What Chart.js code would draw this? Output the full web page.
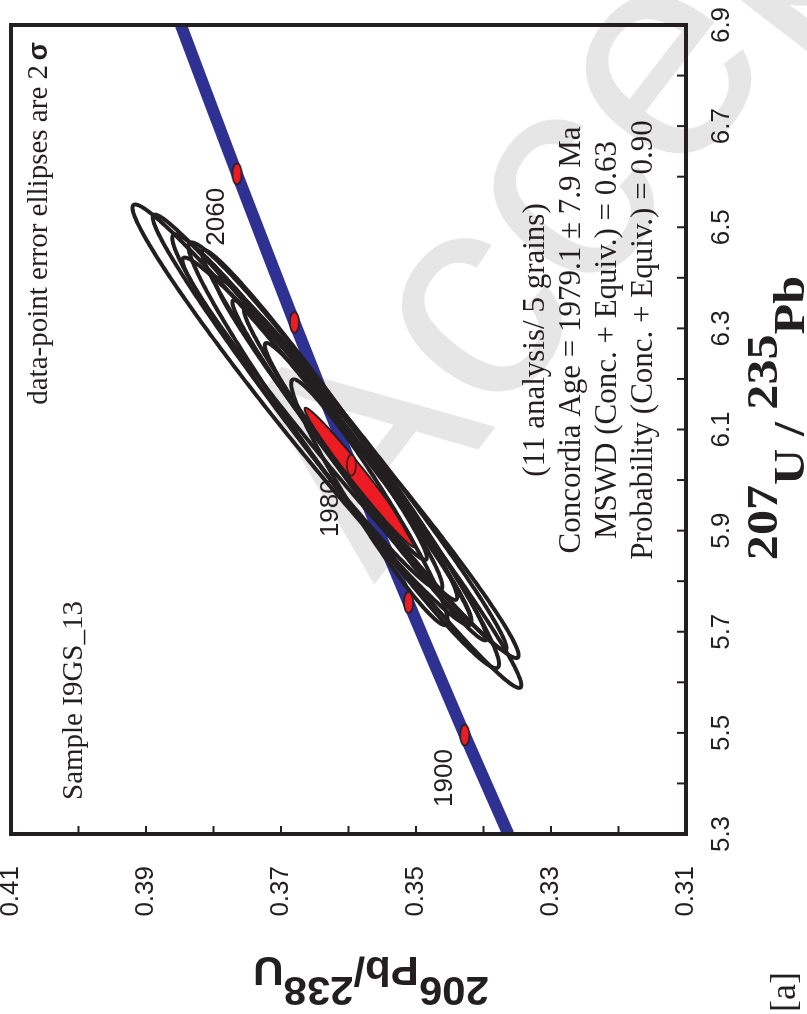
<!DOCTYPE html>
<html>
<head>
<meta charset="utf-8">
<title>Concordia I9GS_13</title>
<script src="https://cdn.jsdelivr.net/npm/chart.js@4.4.1/dist/chart.umd.min.js"></script>
<style>
  html, body { margin: 0; padding: 0; background: #fff; overflow: hidden; }
  #page { position: relative; width: 807px; height: 1014px; overflow: hidden; background: #fff; }
  /* plot is laid out landscape, then turned a quarter turn to the left */
  #plot { position: absolute; left: 0; top: 0; width: 1014px; height: 807px;
          transform-origin: 0 0; transform: translateY(1014px) rotate(-90deg); }
</style>
</head>
<body>
<div id="page"><div id="plot"><canvas id="cv" width="1014" height="807"></canvas></div></div>
<script>
// axes
var xTicks = [5.3, 5.5, 5.7, 5.9, 6.1, 6.3, 6.5, 6.7, 6.9];
var yTicks = [0.31, 0.33, 0.35, 0.37, 0.39, 0.41];
var xMinor = [5.3, 5.4, 5.5, 5.6, 5.7, 5.8, 5.9, 6.0, 6.1, 6.2, 6.3, 6.4, 6.5, 6.6, 6.7, 6.8, 6.9];
var yMinor = [0.31, 0.32, 0.33, 0.34, 0.35, 0.36, 0.37, 0.38, 0.39, 0.40, 0.41];

// concordia curve (Ma, 207Pb/235U, 206Pb/238U)
var concAge = [1869, 1900, 1940, 1980, 2020, 2060, 2099];
var concX = [5.300, 5.4956, 5.7577, 6.0293, 6.3117, 6.6055, 6.900];
var concY = [0.33633, 0.34278, 0.35112, 0.35958, 0.36801, 0.37652, 0.38482];

// age ticks along the concordia, and which ones get a label
var markAge = [1900, 1940, 1980, 2020, 2060];
var markX = [5.4956, 5.7577, 6.0293, 6.3117, 6.6055];
var markY = [0.34278, 0.35112, 0.35958, 0.36801, 0.37652];
var labelAge = [1900, 1980, 2060];

// analyses: 207Pb/235U, 2s, 206Pb/238U, 2s, error correlation
var r207 = [6.129, 6.057, 6.044, 6.049, 6.032, 6.012, 6.109, 5.995, 6.134, 5.956, 6.099];
var s207 = [0.416, 0.468, 0.396, 0.421, 0.369, 0.329, 0.346, 0.276, 0.352, 0.243, 0.257];
var r206 = [0.3669, 0.3617, 0.3597, 0.3607, 0.3582, 0.3575, 0.3628, 0.3571, 0.3661, 0.3569, 0.3628];
var s206 = [0.0251, 0.0273, 0.0249, 0.0230, 0.0216, 0.0180, 0.0189, 0.0153, 0.0200, 0.0116, 0.0144];
var rho = [0.984, 0.988, 0.986, 0.980, 0.987, 0.985, 0.984, 0.983, 0.978, 0.965, 0.982];

// concordia age ellipse
var ageEll = { x: 6.005, sx: 0.138, y: 0.3583, sy: 0.0082, rho: 0.984 };

var statLines = [
    '(11 analysis/ 5 grains)',
    'Concordia Age = 1979.1 \u00b1 7.9 Ma',
    'MSWD (Conc. + Equiv.) = 0.63',
    'Probability (Conc. + Equiv.) = 0.90'
];

var ink = '#231f20';
var sans = '"Liberation Sans", Arial, sans-serif';
var serif = '"Liberation Serif", "Times New Roman", serif';

// small red ellipse used as the age tick symbol
var markerImg = document.createElement('canvas');
markerImg.width = 26; markerImg.height = 13;
(function () {
    var m = markerImg.getContext('2d');
    m.beginPath();
    m.ellipse(13, 6.5, 10.5, 4.6, 0, 0, 2 * Math.PI);
    m.fillStyle = '#ed1c24';
    m.fill();
    m.lineWidth = 1.5;
    m.strokeStyle = ink;
    m.stroke();
})();

function traceEllipse(ctx, xs, ys, cx, ex, cy, ey, r) {
    var n = 400, k = Math.sqrt(1 - r * r);
    ctx.beginPath();
    for (var i = 0; i <= n; i++) {
        var t = i / n * 2 * Math.PI;
        var px = xs.getPixelForValue(cx + ex * Math.cos(t));
        var py = ys.getPixelForValue(cy + ey * (r * Math.cos(t) + k * Math.sin(t)));
        if (i === 0) ctx.moveTo(px, py); else ctx.lineTo(px, py);
    }
    ctx.closePath();
}

// draws a run of [text, font, raise] pieces starting at x
function drawPieces(ctx, pieces, x, y) {
    pieces.forEach(function (p) {
        ctx.font = p[1];
        ctx.fillText(p[0], x, y - p[2]);
        x += ctx.measureText(p[0]).width;
    });
}
function piecesWidth(ctx, pieces) {
    var w = 0;
    pieces.forEach(function (p) { ctx.font = p[1]; w += ctx.measureText(p[0]).width; });
    return w;
}

var concordiaPlugin = {
    id: 'concordia',
    beforeDraw: function (chart) {
        // faint stamp in the background
        var ctx = chart.ctx;
        ctx.save();
        ctx.translate(975, 690);
        ctx.rotate(37.6 * Math.PI / 180);
        ctx.font = '300px ' + sans;
        ctx.fillStyle = '#e6e6e6';
        ctx.textAlign = 'center';
        ctx.textBaseline = 'middle';
        ctx.fillText('Accepted', 0, 0);
        ctx.restore();
    },
    afterDatasetDraw: function (chart, args) {
        if (args.index !== 1) return;
        var ctx = chart.ctx, xs = chart.scales.x, ys = chart.scales.y;
        var area = chart.chartArea;
        ctx.save();
        ctx.beginPath();
        ctx.rect(area.left, area.top, area.right - area.left, area.bottom - area.top);
        ctx.clip();

        // age labels next to the ticks
        ctx.font = '26px ' + sans;
        ctx.fillStyle = ink;
        ctx.textAlign = 'right';
        ctx.textBaseline = 'alphabetic';
        labelAge.forEach(function (a) {
            var i = markAge.indexOf(a);
            ctx.fillText(String(a), xs.getPixelForValue(markX[i]) - 14, ys.getPixelForValue(markY[i]) - 13);
        });

        // concordia age ellipse
        traceEllipse(ctx, xs, ys, ageEll.x, ageEll.sx, ageEll.y, ageEll.sy, ageEll.rho);
        ctx.fillStyle = '#ed1c24';
        ctx.fill();
        ctx.lineWidth = 2;
        ctx.strokeStyle = ink;
        ctx.stroke();

        // data-point error ellipses
        ctx.lineWidth = 4;
        ctx.lineJoin = 'round';
        ctx.strokeStyle = ink;
        for (var i = 0; i < r207.length; i++) {
            traceEllipse(ctx, xs, ys, r207[i], s207[i], r206[i], s206[i], rho[i]);
            ctx.stroke();
        }
        ctx.restore();
    },
    afterDraw: function (chart) {
        var ctx = chart.ctx, xs = chart.scales.x, ys = chart.scales.y;
        var a = chart.chartArea;
        ctx.save();
        ctx.strokeStyle = ink;
        ctx.fillStyle = ink;

        // inward ticks
        ctx.lineWidth = 2;
        ctx.beginPath();
        xMinor.forEach(function (v) {
            var p = xs.getPixelForValue(v);
            ctx.moveTo(p, a.bottom); ctx.lineTo(p, a.bottom - 9);
        });
        yMinor.forEach(function (v) {
            var p = ys.getPixelForValue(v);
            ctx.moveTo(a.left, p); ctx.lineTo(a.left + 8, p);
        });
        ctx.stroke();

        // frame
        ctx.lineWidth = 4;
        ctx.strokeRect(a.left, a.top, a.right - a.left, a.bottom - a.top);

        // notes inside the frame
        ctx.textBaseline = 'alphabetic';
        ctx.font = 'bold 27px ' + sans;
        ctx.textAlign = 'right';
        ctx.fillText('\u03c3', a.right - 17, a.top + 36);
        ctx.font = '29px ' + serif;
        ctx.fillText('data-point error ellipses are 2', a.right - 40, a.top + 36);

        ctx.textAlign = 'left';
        ctx.fillText('Sample I9GS_13', a.left + 34, a.top + 71);

        ctx.font = '31px ' + serif;
        ctx.textAlign = 'center';
        statLines.forEach(function (s, i) {
            ctx.fillText(s, 674, 544 + i * 36);
        });

        // axis titles (slightly widened lettering)
        ctx.textAlign = 'left';
        var bs = 'bold 44px ' + serif;
        var xt = [['207', bs, 27], ['U', bs, 0], [' / ', bs, 0], ['235', bs, 27], ['Pb', bs, 0]];
        var xw = piecesWidth(ctx, xt) * 1.14;
        ctx.save();
        ctx.translate(596 - xw / 2, 804);
        ctx.scale(1.14, 1);
        drawPieces(ctx, xt, 0, 0);
        ctx.restore();

        var bsans = 'bold 40px ' + sans;
        var yt = [['206', bsans, 20], ['Pb', bsans, 0], ['/', bsans, 0], ['238', bsans, 20], ['U', bsans, 0]];
        ctx.save();
        ctx.translate(57, 371);
        ctx.rotate(-Math.PI / 2);
        ctx.scale(1.05, 1);
        drawPieces(ctx, yt, -piecesWidth(ctx, yt) / 2, 0);
        ctx.restore();

        ctx.font = '36px ' + serif;
        ctx.fillText('[a]', 2, 795);
        ctx.restore();
    }
};

new Chart(document.getElementById('cv'), {
    type: 'scatter',
    data: {
        datasets: [
            {
                // age ticks, drawn last so they sit on top
                data: markX.map(function (x, i) { return { x: x, y: markY[i] }; }),
                pointStyle: markerImg,
                pointRadius: 10,
                showLine: false
            },
            {
                data: concX.map(function (x, i) { return { x: x, y: concY[i] }; }),
                showLine: true,
                borderColor: '#2e3192',
                borderWidth: 12,
                pointRadius: 0,
                tension: 0.2,
                clip: 0
            }
        ]
    },
    options: {
        responsive: false,
        animation: false,
        devicePixelRatio: 1,
        layout: { padding: { top: 7, right: 25, left: 0, bottom: 0 } },
        plugins: { legend: { display: false }, tooltip: { enabled: false } },
        scales: {
            x: {
                type: 'linear', min: 5.3, max: 6.9,
                afterBuildTicks: function (s) { s.ticks = xTicks.map(function (v) { return { value: v }; }); },
                afterFit: function (s) { s.height = 121; s.paddingLeft = 0; s.paddingRight = 0; },
                grid: { display: false },
                border: { display: false },
                ticks: {
                    font: { family: sans, size: 26 }, color: ink, padding: 12,
                    maxRotation: 0, autoSkip: false,
                    callback: function (v) { return v.toFixed(1); }
                }
            },
            y: {
                type: 'linear', min: 0.31, max: 0.41,
                afterBuildTicks: function (s) { s.ticks = yTicks.map(function (v) { return { value: v }; }); },
                afterFit: function (s) { s.width = 180; s.paddingTop = 0; s.paddingBottom = 0; },
                grid: { display: false },
                border: { display: false },
                ticks: {
                    font: { family: sans, size: 26 }, color: ink, padding: 24,
                    autoSkip: false,
                    callback: function (v) { return v.toFixed(2); }
                }
            }
        }
    },
    plugins: [concordiaPlugin]
});
</script>
</body>
</html>
